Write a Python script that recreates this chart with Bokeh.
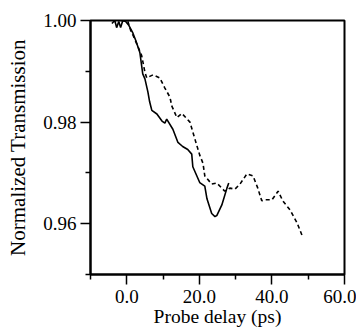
from bokeh.plotting import figure
from bokeh.models import FixedTicker, Range1d
from bokeh.embed import file_html
from bokeh.resources import INLINE

# Solid curve
solid_x = [-4.1, -3.3, -2.8, -2.2, -1.7, -1.1, -0.3, 0.6, 1.7, 2.5, 3.6, 4.4, 5.0, 5.8, 6.3, 6.9,
           8.3, 9.7, 10.5, 11.0, 12.7, 14.1, 15.4, 16.8, 17.9, 18.2, 20.1, 21.5, 22.1, 23.4,
           24.3, 24.8, 26.2, 27.6, 28.1]
solid_y = [0.9994, 1.0000, 0.9986, 0.9998, 0.9986, 1.0000, 0.9998, 0.9990, 0.9975, 0.9960, 0.9937,
           0.9895, 0.9885, 0.9860, 0.9840, 0.9823, 0.9816, 0.9802, 0.9798, 0.9806, 0.9786, 0.9760,
           0.9752, 0.9746, 0.9737, 0.9712, 0.9681, 0.9674, 0.9649, 0.9620, 0.9614, 0.9616, 0.9637,
           0.9670, 0.9680]

# Dashed curve
dash_x = [-1.7, -0.6, 0.3, 1.1, 1.9, 3.0, 4.1, 5.0, 5.5, 7.2, 9.1, 10.5, 11.9, 12.4, 13.8, 15.2,
          17.4, 18.8, 20.1, 21.0, 21.5, 23.4, 24.8, 26.2, 27.0, 28.4, 29.8, 31.2, 33.1, 34.8,
          36.1, 37.2, 38.1, 40.0, 41.7, 43.0, 45.0, 46.9, 48.3]
dash_y = [1.0000, 1.0000, 0.9998, 0.9980, 0.9968, 0.9950, 0.9931, 0.9898, 0.9887, 0.9893, 0.9887,
          0.9867, 0.9849, 0.9832, 0.9809, 0.9817, 0.9800, 0.9766, 0.9735, 0.9719, 0.9694, 0.9678,
          0.9680, 0.9670, 0.9664, 0.9670, 0.9668, 0.9678, 0.9698, 0.9694, 0.9670, 0.9645, 0.9647,
          0.9647, 0.9664, 0.9645, 0.9627, 0.9602, 0.9577]

x_major = [0, 20, 40, 60]
x_minor = [-10, 10, 30, 50]
x_labels = {0: "0.0", 20: "20.0", 40: "40.0", 60: "60.0"}
y_major = [0.96, 0.98, 1.00]
y_minor = [0.95, 0.97, 0.99]
y_labels = {0.96: "0.96", 0.98: "0.98", 1.00: "1.00"}

FONT = "'Liberation Serif', serif"

p = figure(frame_width=254, frame_height=254, output_backend="svg", toolbar_location=None,
           x_range=Range1d(-10, 60), y_range=Range1d(0.95, 1.00),
           min_border_left=90, min_border_right=12, min_border_top=20, min_border_bottom=40)
p.background_fill_color = "white"
p.border_fill_color = "white"
p.outline_line_color = "black"
p.outline_line_width = 2
p.xgrid.visible = False
p.ygrid.visible = False

p.line(solid_x, solid_y, line_color="black", line_width=1.6)
p.line(dash_x, dash_y, line_color="black", line_width=1.6, line_dash="4 3")

for ax in (p.xaxis[0], p.yaxis[0]):
    ax.axis_line_width = 2
    ax.axis_line_color = "black"
    ax.major_tick_line_color = "black"
    ax.minor_tick_line_color = "black"
    ax.major_tick_line_width = 1.5
    ax.minor_tick_line_width = 1.5
    ax.major_tick_out = 10
    ax.major_tick_in = 0
    ax.minor_tick_out = 5
    ax.minor_tick_in = 0
    ax.major_label_text_font = FONT
    ax.major_label_text_font_size = "19px"
    ax.major_label_text_color = "black"
    ax.axis_label_text_font = FONT
    ax.axis_label_text_font_style = "normal"
    ax.axis_label_text_color = "black"

p.xaxis[0].ticker = FixedTicker(ticks=x_major, minor_ticks=x_minor)
p.xaxis[0].major_label_overrides = x_labels
p.xaxis[0].axis_label = "Probe delay (ps)"
p.xaxis[0].axis_label_text_font_size = "19.5px"
p.xaxis[0].major_label_standoff = 5
p.xaxis[0].axis_label_standoff = 0

p.yaxis[0].ticker = FixedTicker(ticks=y_major, minor_ticks=y_minor)
p.yaxis[0].major_label_overrides = y_labels
p.yaxis[0].axis_label = "Normalized Transmission"
p.yaxis[0].axis_label_text_font_size = "21px"
p.yaxis[0].major_label_standoff = 4
p.yaxis[0].axis_label_standoff = 10

open("out.html", "w").write(file_html(p, INLINE))
